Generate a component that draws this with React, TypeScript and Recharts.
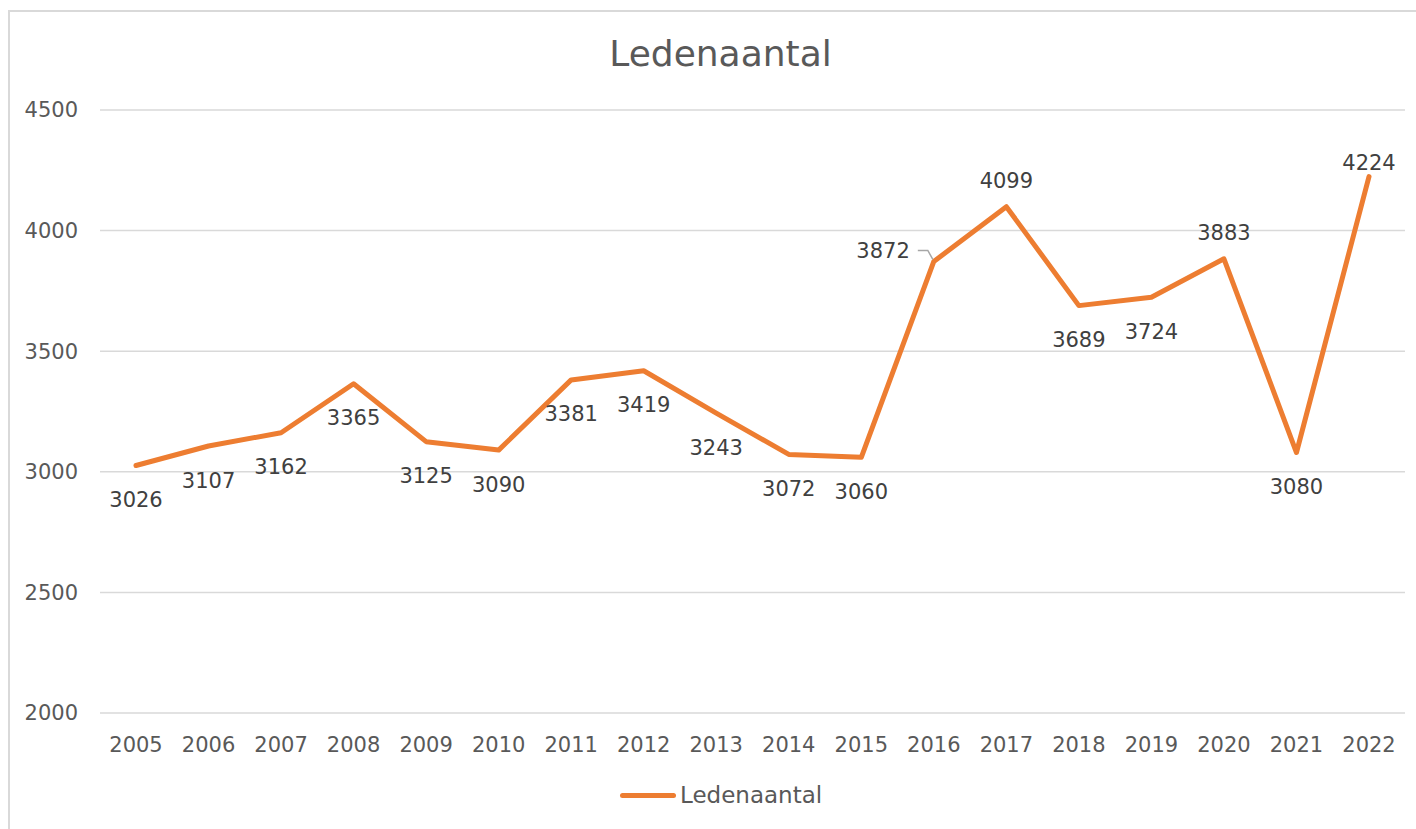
import React from 'react';
import { LineChart, Line, XAxis, YAxis, CartesianGrid, LabelList } from 'recharts';

const years = ['2005', '2006', '2007', '2008', '2009', '2010', '2011', '2012', '2013', '2014', '2015', '2016', '2017', '2018', '2019', '2020', '2021', '2022'];
const members = [3026, 3107, 3162, 3365, 3125, 3090, 3381, 3419, 3243, 3072, 3060, 3872, 4099, 3689, 3724, 3883, 3080, 4224];
const yTicks = [2000, 2500, 3000, 3500, 4000, 4500];

// where Excel put each data label: b = below, a = above, l = left with leader line
const labelSides = ['b', 'b', 'b', 'b', 'b', 'b', 'b', 'b', 'b', 'b', 'b', 'l', 'a', 'b', 'b', 'a', 'b', 'a'];

const FONT = "'DejaVu Sans', sans-serif";
const ORANGE = '#ED7D31';

const data = years.map((y, i) => ({ year: y, value: members[i] }));

const renderLabel = (props: any) => {
  const { x, y, index, value } = props;
  const side = labelSides[index];
  const common = { fontFamily: FONT, fontSize: 21, fill: '#404040', dy: '0.36em' };
  if (side === 'l') {
    return (
      <g key={`lbl-${index}`}>
        <path d={`M${x - 16},${y - 11} H${x - 6} L${x - 1},${y - 2}`} stroke="#A6A6A6" strokeWidth={1.5} fill="none" />
        <text x={x - 24} y={y - 11} textAnchor="end" {...common}>{value}</text>
      </g>
    );
  }
  const dy = side === 'a' ? (index === years.length - 1 ? -14 : -26) : 34;
  return (
    <text key={`lbl-${index}`} x={x} y={y + dy} textAnchor="middle" {...common}>{value}</text>
  );
};

const App: React.FC = () => {
  return (
    <div style={{ position: 'absolute', left: 0, top: 0, width: 1416, height: 829, overflow: 'hidden', background: '#fff' }}>
      <div style={{ position: 'absolute', left: 8, top: 10, width: 1430, height: 840, border: '2px solid #D9D9D9', boxSizing: 'border-box' }} />
      <div style={{ position: 'absolute', left: 0, top: 32, width: 1441, textAlign: 'center', fontFamily: FONT, fontSize: 36, color: '#595959', lineHeight: '44px' }}>
        Ledenaantal
      </div>
      <div style={{ position: 'absolute', left: 0, top: 0 }}>
        <LineChart width={1416} height={829} data={data} margin={{ top: 110, right: 11, left: 0, bottom: 76 }}>
          <CartesianGrid vertical={false} stroke="#D9D9D9" strokeWidth={1.5} />
          <XAxis
            dataKey="year"
            height={40}
            interval={0}
            padding={{ left: 36, right: 36 }}
            axisLine={false}
            tickLine={false}
            tickMargin={18}
            tick={{ fontFamily: FONT, fontSize: 21, fill: '#595959' }}
          />
          <YAxis
            width={100}
            domain={[2000, 4500]}
            ticks={yTicks}
            axisLine={false}
            tickLine={false}
            tickMargin={16}
            tick={{ fontFamily: FONT, fontSize: 21, fill: '#595959' }}
          />
          <Line
            type="linear"
            dataKey="value"
            stroke={ORANGE}
            strokeWidth={5}
            strokeLinecap="round"
            strokeLinejoin="round"
            dot={false}
            isAnimationActive={false}
          >
            <LabelList dataKey="value" content={renderLabel} />
          </Line>
        </LineChart>
      </div>
      <div style={{ position: 'absolute', left: 620, top: 782, display: 'flex', alignItems: 'center', fontFamily: FONT, fontSize: 23, color: '#595959' }}>
        <span style={{ display: 'inline-block', width: 56, height: 5, borderRadius: 3, background: ORANGE, marginRight: 4 }} />
        <span>Ledenaantal</span>
      </div>
    </div>
  );
};

export default App;
